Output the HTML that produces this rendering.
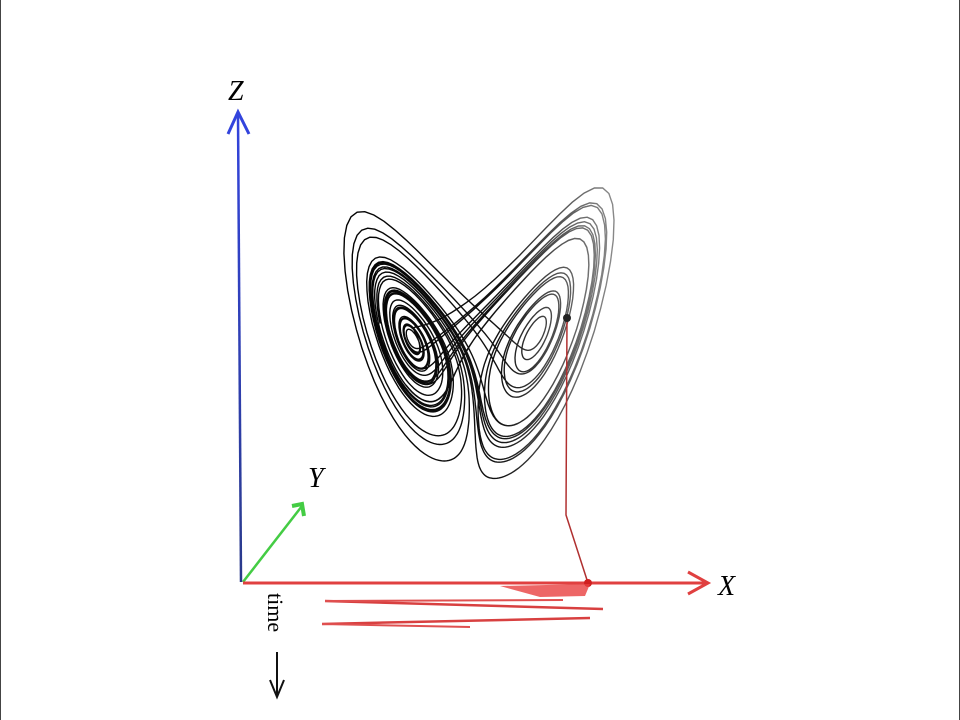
<!DOCTYPE html>
<html><head><meta charset="utf-8"><style>
body{margin:0;background:#fff;}
svg{display:block}
text{font-family:"Liberation Serif",serif;font-style:italic}
</style></head><body>
<svg id="c" width="960" height="720">
<defs>
<linearGradient id="fade" gradientUnits="userSpaceOnUse" x1="330" y1="0" x2="610" y2="0">
<stop offset="0" stop-color="#000"/><stop offset="0.6" stop-color="#111"/><stop offset="1" stop-color="#888"/>
</linearGradient>
<linearGradient id="zg" x1="0" y1="1" x2="0" y2="0"><stop offset="0" stop-color="#2a3a8a"/><stop offset="1" stop-color="#3344dd"/></linearGradient>
</defs>
<line x1="0.5" y1="0" x2="0.5" y2="720" stroke="#444"/>
<line x1="959.5" y1="0" x2="959.5" y2="720" stroke="#444"/>
<g>
<line x1="241" y1="582" x2="238" y2="114" stroke="url(#zg)" stroke-width="2.5"/>
<path d="M228,134 L238,112 L249,134" fill="none" stroke="#3344dd" stroke-width="3"/>
</g>
<text x="228" y="100" font-size="28">Z</text>
<g>
<line x1="243" y1="582" x2="302" y2="506" stroke="#44cc44" stroke-width="2.5"/>
<path d="M292,506 L302,504 L304,516" fill="none" stroke="#44cc44" stroke-width="4"/>
</g>
<text x="308" y="487" font-size="28">Y</text>
<g>
<line x1="243" y1="583" x2="705" y2="583" stroke="#e04040" stroke-width="3"/>
<path d="M688,572 L708,583 L688,594" fill="none" stroke="#e04040" stroke-width="3"/>
</g>
<text x="718" y="595" font-size="28">X</text>
<text transform="translate(268,593) rotate(90)" font-size="22" style="font-style:normal">time</text>
<g>
<line x1="277" y1="652" x2="277" y2="695" stroke="#111" stroke-width="2"/>
<path d="M270,680 L277,697 L284,680" fill="none" stroke="#111" stroke-width="2"/>
</g>
<g id="att"></g>
<g id="proj"></g>
</svg>
<script>
// Lorenz parameters (sigma, rho, beta) and start state
const params = [10, 28, 8/3];
const start = [1, 1, 20];
const steps = [3200];
// time-trace strands below the X axis: [x-start, x-end, y]
const traceStarts = [325, 322];
const traceEnds = [603, 590];
const traceYs = [601, 624];

const ns='http://www.w3.org/2000/svg';
const px = (x,y,z)=> 474 + 6.9*x + 0.35*y;
const py = (x,y,z)=> 338 - 6.7*(z-27) - 0.3*y;
let [x,y,z]=start; const dt=0.01;
for(let i=0;i<800;i++){const dx=params[0]*(y-x),dy=x*(params[1]-z)-y,dz=x*y-params[2]*z;x+=dx*dt;y+=dy*dt;z+=dz*dt;}
let d='';
for(let i=0;i<steps[0];i++){
 const dx=params[0]*(y-x),dy=x*(params[1]-z)-y,dz=x*y-params[2]*z;
 x+=dx*dt;y+=dy*dt;z+=dz*dt;
 d+=(i?'L':'M')+px(x,y,z).toFixed(1)+','+py(x,y,z).toFixed(1);
}
const p=document.createElementNS(ns,'path');
p.setAttribute('d',d);p.setAttribute('fill','none');p.setAttribute('stroke','url(#fade)');p.setAttribute('stroke-width','1.4');


document.getElementById('att').appendChild(p);
const g=document.getElementById('proj');
const ln=document.createElementNS(ns,'path');
ln.setAttribute('d','M567,318 L566,515 L588,583');ln.setAttribute('fill','none');ln.setAttribute('stroke','#b03030');ln.setAttribute('stroke-width','1.5');


g.appendChild(ln);
const c=document.createElementNS(ns,'circle');c.setAttribute('cx',567);c.setAttribute('cy',318);c.setAttribute('r',4);c.setAttribute('fill','#222');


g.appendChild(c);
const c2=document.createElementNS(ns,'circle');c2.setAttribute('cx',588);c2.setAttribute('cy',583);c2.setAttribute('r',4);c2.setAttribute('fill','#d02020');


g.appendChild(c2);
const blob=document.createElementNS(ns,'path');
blob.setAttribute('d','M500,586 L590,584 L585,596 L540,597 Z');blob.setAttribute('fill','#e84040');blob.setAttribute('opacity','0.8');


g.appendChild(blob);
for(let i=0;i<traceYs.length;i++){
 const t=document.createElementNS(ns,'line');
 t.setAttribute('x1',traceStarts[i]);t.setAttribute('x2',traceEnds[i]);t.setAttribute('y1',traceYs[i]);t.setAttribute('y2',traceYs[i]+ (i?-6:8));
 t.setAttribute('stroke','#d84040');t.setAttribute('stroke-width','2.5');
 
 
 g.appendChild(t);
 const t2=document.createElementNS(ns,'line');
 t2.setAttribute('x1',traceStarts[i]);t2.setAttribute('x2',traceEnds[i]-(i?120:40));t2.setAttribute('y1',traceYs[i]);t2.setAttribute('y2',traceYs[i]+(i?3:-1));
 t2.setAttribute('stroke','#e05050');t2.setAttribute('stroke-width','2');
 
 
 g.appendChild(t2);
}
</script>
</body></html>
